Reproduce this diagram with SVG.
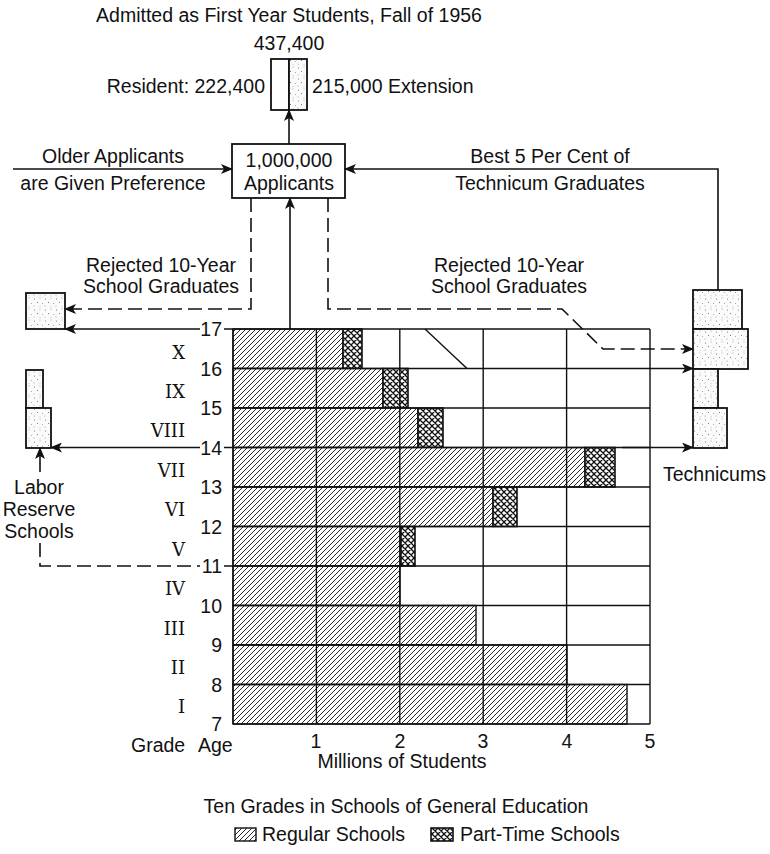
<svg xmlns="http://www.w3.org/2000/svg" width="770" height="854" viewBox="0 0 770 854">
<style>
.t{font-family:"Liberation Sans",Arial,sans-serif;font-size:19.5px;fill:#111}
.n{font-family:"Liberation Sans",Arial,sans-serif;font-size:19.5px;fill:#111}
.g{font-family:"DejaVu Serif","Liberation Serif",serif;font-size:18px;fill:#111}
.m{text-anchor:middle}.e{text-anchor:end}
.ln{stroke:#111;stroke-width:1.6;fill:none}
.dl{stroke:#111;stroke-width:1.6;fill:none;stroke-dasharray:14 6}
.box{stroke:#111;stroke-width:1.8;fill:#fff}
.st{stroke:#111;stroke-width:1.8;fill:url(#stip)}
.grid{stroke:#111;stroke-width:1.4;fill:none}
.reg{fill:url(#hatch);stroke:#111;stroke-width:1.4}
.pt{fill:url(#cross);stroke:#111;stroke-width:1.6}
</style>
<defs>
<pattern id="hatch" patternUnits="userSpaceOnUse" width="5" height="5">
<rect width="5" height="5" fill="#fff"/>
<path d="M-1,1 L1,-1 M0,5 L5,0 M4,6 L6,4" stroke="#111" stroke-width="0.9"/>
</pattern>
<pattern id="cross" patternUnits="userSpaceOnUse" width="6" height="6">
<rect width="6" height="6" fill="#fff"/>
<path d="M0,0 L6,6 M6,0 L0,6 M-1,5 L1,7 M5,-1 L7,1 M-1,1 L1,-1 M5,7 L7,5" stroke="#111" stroke-width="1.3"/>
</pattern>
<pattern id="stip" patternUnits="userSpaceOnUse" width="11" height="11">
<rect width="11" height="11" fill="#fbfbfb"/>
<circle cx="1.5" cy="2" r="0.5" fill="#555"/>
<circle cx="7" cy="1" r="0.45" fill="#555"/>
<circle cx="4.5" cy="5.5" r="0.5" fill="#555"/>
<circle cx="9.5" cy="6.5" r="0.45" fill="#555"/>
<circle cx="1" cy="9" r="0.45" fill="#555"/>
<circle cx="7" cy="9.8" r="0.4" fill="#555"/>
</pattern>
<marker id="ar" viewBox="0 0 12 10" refX="11" refY="5" markerWidth="12" markerHeight="10" markerUnits="userSpaceOnUse" orient="auto">
<path d="M0,0 L12,5 L0,10 L3,5 z" fill="#111"/>
</marker>
</defs>
<rect width="770" height="854" fill="#fff"/>

<!-- Admitted node -->
<g id="admitted">
<text class="t m" x="289" y="22">Admitted as First Year Students, Fall of 1956</text>
<text class="t m" x="289" y="50">437,400</text>
<rect class="box" x="271" y="59" width="18" height="51"/>
<rect class="st" x="289" y="59" width="18" height="51"/>
<text class="t e" x="265" y="93">Resident: 222,400</text>
<text class="t" x="312" y="93">215,000 Extension</text>
</g>

<!-- Applicants node -->
<g id="applicants">
<rect class="box" x="232" y="144" width="113" height="54"/>
<text class="t m" x="289" y="167">1,000,000</text>
<text class="t m" x="289" y="190">Applicants</text>
</g>

<g id="older-label">
<text class="t m" x="113" y="163">Older Applicants</text>
<text class="t m" x="113" y="190">are Given Preference</text>
</g>
<g id="best-label">
<text class="t m" x="550" y="163">Best 5 Per Cent of</text>
<text class="t m" x="550" y="190">Technicum Graduates</text>
</g>

<g id="rejected-left">
<rect class="st" x="26" y="293" width="39" height="36"/>
<text class="t m" x="161" y="272">Rejected 10-Year</text>
<text class="t m" x="161" y="293">School Graduates</text>
</g>
<g id="rejected-right-label">
<text class="t m" x="509" y="272">Rejected 10-Year</text>
<text class="t m" x="509" y="293">School Graduates</text>
</g>

<g id="labor-reserve">
<rect class="st" x="26" y="370" width="17" height="38"/>
<rect class="st" x="26" y="408" width="25" height="40"/>
<text class="t m" x="39" y="494">Labor</text>
<text class="t m" x="39" y="516">Reserve</text>
<text class="t m" x="39" y="538">Schools</text>
</g>

<g id="technicums">
<rect class="st" x="693" y="290" width="49" height="39"/>
<rect class="st" x="693" y="329" width="55" height="40"/>
<rect class="st" x="693" y="369" width="25" height="39"/>
<rect class="st" x="693" y="408" width="34" height="40"/>
<text class="t" x="663" y="481">Technicums</text>
</g>

<!-- Chart -->
<g id="chart">
<rect x="233" y="329" width="417" height="395" fill="#fff"/>
<rect class="reg" x="233" y="329" width="110" height="39.5"/>
<rect class="pt" x="343" y="329" width="19" height="39.5"/>
<rect class="reg" x="233" y="368.5" width="150" height="39.5"/>
<rect class="pt" x="383" y="368.5" width="25" height="39.5"/>
<rect class="reg" x="233" y="408" width="185" height="39.5"/>
<rect class="pt" x="418" y="408" width="25" height="39.5"/>
<rect class="reg" x="233" y="447.5" width="352" height="39.5"/>
<rect class="pt" x="585" y="447.5" width="30" height="39.5"/>
<rect class="reg" x="233" y="487" width="260" height="39.5"/>
<rect class="pt" x="493" y="487" width="24" height="39.5"/>
<rect class="reg" x="233" y="526.5" width="168" height="39.5"/>
<rect class="pt" x="401" y="526.5" width="14" height="39.5"/>
<rect class="reg" x="233" y="566" width="167" height="39.5"/>
<rect class="reg" x="233" y="605.5" width="243" height="39.5"/>
<rect class="reg" x="233" y="645" width="334" height="39.5"/>
<rect class="reg" x="233" y="684.5" width="394" height="39.5"/>
<path class="grid" d="M233,329 H650 M233,368.5 H650 M233,408 H650 M233,447.5 H650 M233,487 H650 M233,526.5 H650 M233,566 H650 M233,605.5 H650 M233,645 H650 M233,684.5 H650 M233,724 H650"/>
<path class="grid" d="M233,329 V724 M316.4,329 V724 M399.8,329 V724 M483.2,329 V724 M566.6,329 V724 M650,329 V724"/>
<path class="grid" d="M425,329 L467,368.5"/>
<path class="grid" d="M224,329 H233 M224,447.5 H233 M224,566 H233"/>
</g>

<g id="ages">
<text class="n e" x="222" y="336">17</text>
<text class="n e" x="222" y="375.5">16</text>
<text class="n e" x="222" y="415">15</text>
<text class="n e" x="222" y="454.5">14</text>
<text class="n e" x="222" y="494">13</text>
<text class="n e" x="222" y="533.5">12</text>
<text class="n e" x="222" y="573">11</text>
<text class="n e" x="222" y="612.5">10</text>
<text class="n e" x="222" y="652">9</text>
<text class="n e" x="222" y="691.5">8</text>
<text class="n e" x="222" y="731">7</text>
</g>
<g id="grades">
<text class="g e" x="185" y="359">X</text>
<text class="g e" x="185" y="398">IX</text>
<text class="g e" x="185" y="437">VIII</text>
<text class="g e" x="185" y="477">VII</text>
<text class="g e" x="185" y="516">VI</text>
<text class="g e" x="185" y="556">V</text>
<text class="g e" x="185" y="595">IV</text>
<text class="g e" x="185" y="635">III</text>
<text class="g e" x="185" y="674">II</text>
<text class="g e" x="185" y="713">I</text>
</g>
<g id="axis">
<text class="n m" x="316" y="748">1</text>
<text class="n m" x="400" y="748">2</text>
<text class="n m" x="483" y="748">3</text>
<text class="n m" x="567" y="748">4</text>
<text class="n m" x="650" y="748">5</text>
<text class="t" x="131" y="752">Grade</text>
<text class="t" x="198" y="752">Age</text>
<text class="t m" x="402" y="768">Millions of Students</text>
</g>
<g id="legend">
<text class="t m" x="396" y="813">Ten Grades in Schools of General Education</text>
<rect class="reg" x="235" y="828" width="21" height="13"/>
<text class="t" x="262" y="841">Regular Schools</text>
<rect class="pt" x="431" y="828" width="22" height="13"/>
<text class="t" x="460" y="841">Part-Time Schools</text>
</g>

<!-- Connectors -->
<g id="connectors">
<path class="ln" d="M289,144 V110" marker-end="url(#ar)"/>
<path class="ln" d="M13,169 H232" marker-end="url(#ar)"/>
<path class="ln" d="M718,290 V169 H345" marker-end="url(#ar)"/>
<path class="ln" d="M290,329 V198" marker-end="url(#ar)"/>
<path class="dl" d="M251,198 V309 H65" marker-end="url(#ar)"/>
<path class="dl" d="M328,198 V309 H562 L603,349 H693" marker-end="url(#ar)"/>
<path class="ln" d="M200,329 H65" marker-end="url(#ar)"/>
<path class="ln" d="M200,447.5 H51" marker-end="url(#ar)"/>
<path class="ln" d="M40,472 V448" marker-end="url(#ar)"/>
<path class="dl" d="M40,543 V566 H200"/>
<path class="ln" d="M650,368.5 H693" marker-end="url(#ar)"/>
<path class="ln" d="M622,447.5 H693" marker-end="url(#ar)"/>
</g>
</svg>
